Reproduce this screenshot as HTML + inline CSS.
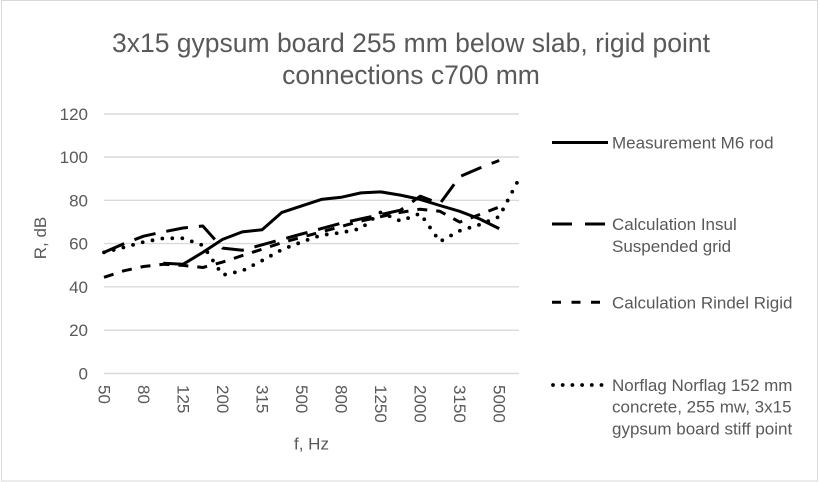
<!DOCTYPE html>
<html>
<head>
<meta charset="utf-8">
<style>
  html, body { margin: 0; padding: 0; background: #ffffff; }
  svg { display: block; }
  text { font-family: "Liberation Sans", Arial, sans-serif; fill: #595959; }
</style>
</head>
<body>
<svg width="820" height="482" viewBox="0 0 820 482" xmlns="http://www.w3.org/2000/svg">
  <rect x="0" y="0" width="820" height="482" fill="#ffffff"/>
  <rect x="1.5" y="0.5" width="816" height="480.5" fill="none" stroke="#d9d9d9" stroke-width="1"/>

  <!-- Title -->
  <text x="411" y="52" font-size="26.5" text-anchor="middle">3x15 gypsum board 255 mm below slab, rigid point</text>
  <text x="411" y="84" font-size="26.5" text-anchor="middle">connections c700 mm</text>

  <!-- Gridlines -->
  <g stroke="#d9d9d9" stroke-width="1.4">
    <line x1="104" y1="114" x2="519" y2="114"/>
    <line x1="104" y1="157" x2="519" y2="157"/>
    <line x1="104" y1="200.3" x2="519" y2="200.3"/>
    <line x1="104" y1="243.6" x2="519" y2="243.6"/>
    <line x1="104" y1="286.8" x2="519" y2="286.8"/>
    <line x1="104" y1="330.2" x2="519" y2="330.2"/>
    <line x1="104" y1="373.5" x2="519" y2="373.5"/>
  </g>

  <!-- Y tick labels -->
  <g font-size="17" text-anchor="end">
    <text x="88" y="120">120</text>
    <text x="88" y="163">100</text>
    <text x="88" y="206.3">80</text>
    <text x="88" y="249.6">60</text>
    <text x="88" y="292.8">40</text>
    <text x="88" y="336.2">20</text>
    <text x="88" y="379.5">0</text>
  </g>

  <!-- X tick labels (rotated) -->
  <g font-size="17" dominant-baseline="central">
    <text transform="translate(104,385) rotate(90)">50</text>
    <text transform="translate(143.5,385) rotate(90)">80</text>
    <text transform="translate(183,385) rotate(90)">125</text>
    <text transform="translate(222.6,385) rotate(90)">200</text>
    <text transform="translate(262.1,385) rotate(90)">315</text>
    <text transform="translate(301.6,385) rotate(90)">500</text>
    <text transform="translate(341.1,385) rotate(90)">800</text>
    <text transform="translate(380.7,385) rotate(90)">1250</text>
    <text transform="translate(420.2,385) rotate(90)">2000</text>
    <text transform="translate(459.7,385) rotate(90)">3150</text>
    <text transform="translate(499.2,385) rotate(90)">5000</text>
  </g>

  <!-- Axis titles -->
  <text x="311.5" y="449.5" font-size="17" text-anchor="middle">f, Hz</text>
  <text transform="translate(46,238) rotate(-90)" font-size="17" text-anchor="middle">R, dB</text>

  <!-- Series -->
  <g fill="none" stroke="#000000" stroke-width="3" stroke-linejoin="round">
    <!-- Calculation Rindel Rigid (short dash) -->
    <polyline stroke-dasharray="10 9" points="104,277.3 123.8,270.8 143.5,266.5 163.3,264.3 183,265.4 202.8,267.5 222.6,262.1 242.3,255.6 262.1,249.2 281.9,242.7 301.6,237.3 321.4,231.9 341.1,226.5 360.9,221.0 380.7,216.7 400.4,212.4 420.2,209.2 439.9,211.3 459.7,222.1 479.5,214.6 499.2,207.0"/>
    <!-- Calculation Insul Suspended grid (long dash) -->
    <polyline stroke-dasharray="22 11" points="104,252.4 123.8,243.8 143.5,236.2 163.3,231.9 183,228.0 202.8,226.0 222.6,248.1 242.3,250.2 262.1,244.8 281.9,239.4 301.6,234.0 321.4,228.6 341.1,223.2 360.9,218.9 380.7,214.6 400.4,210.2 420.2,196.2 439.9,203.7 459.7,176.7 479.5,168.1 499.2,160.5"/>
    <!-- Measurement M6 rod (solid) -->
    <polyline points="163.3,263.2 183,264.3 202.8,252.4 222.6,239.4 242.3,231.9 262.1,229.7 281.9,212.4 301.6,205.9 321.4,199.4 341.1,197.3 360.9,192.9 380.7,191.9 400.4,195.1 420.2,199.4 439.9,205.5 459.7,211.3 479.5,218.9 499.2,228.6"/>
    <!-- Norflag (round dot) -->
    <polyline stroke-width="3.8" stroke-linecap="round" stroke-dasharray="0 10" points="104,252.4 123.8,247.4 143.5,242.0 163.3,238.3 183,238.3 202.8,245.3 222.6,275.1 242.3,270.8 262.1,260.6 281.9,249.6 301.6,242.0 321.4,235.1 341.1,232.7 360.9,228.6 380.7,212.4 400.4,221.0 420.2,213.5 439.9,241.6 459.7,230.8 479.5,224.7 499.2,216.7 519,178.9"/>
  </g>

  <!-- Legend -->
  <g fill="none" stroke="#000000" stroke-width="3">
    <line x1="552" y1="142.5" x2="608" y2="142.5"/>
    <line x1="552" y1="224" x2="608" y2="224" stroke-dasharray="20 13"/>
    <line x1="552" y1="302.3" x2="608" y2="302.3" stroke-dasharray="9 10.5"/>
    <line x1="553" y1="385" x2="608" y2="385" stroke-width="3.8" stroke-linecap="round" stroke-dasharray="0 9.7"/>
  </g>
  <g font-size="17">
    <text x="612" y="148.5">Measurement M6 rod</text>
    <text x="612" y="230">Calculation Insul</text>
    <text x="612" y="252">Suspended grid</text>
    <text x="612" y="308.3">Calculation Rindel Rigid</text>
    <text x="612" y="391">Norflag Norflag 152 mm</text>
    <text x="612" y="412.7">concrete, 255 mw, 3x15</text>
    <text x="612" y="434.3">gypsum board stiff point</text>
  </g>
</svg>
</body>
</html>
